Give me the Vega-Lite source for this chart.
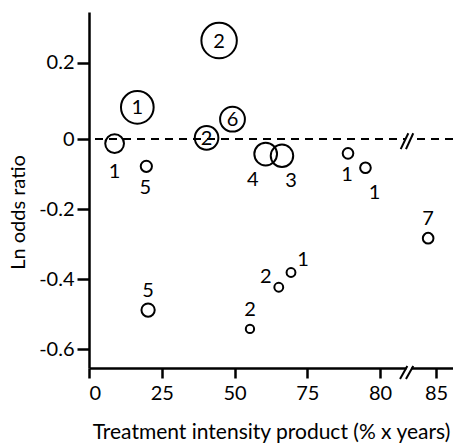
{
  "$schema": "https://vega.github.io/schema/vega-lite/v6.json",
  "autosize": {"type": "none"},
  "padding": {"left": 89, "top": 12, "right": 0, "bottom": 76},
  "width": 364,
  "height": 356,
  "config": {
    "font": "Lato",
    "view": {"stroke": null},
    "axis": {
      "grid": false,
      "domainColor": "black",
      "domainWidth": 2.5,
      "tickColor": "black",
      "tickWidth": 2.5,
      "tickSize": 10,
      "labelFontSize": 20,
      "labelColor": "black",
      "titleColor": "black",
      "titleFontWeight": "normal",
      "labelFont": "Lato",
      "titleFont": "Lato"
    }
  },
  "datasets": {
    "studies": [
      {"id": "a", "ipt": 16.6, "lnor": 0.083, "weight": 340, "label": "1"},
      {"id": "b", "ipt": 44.7, "lnor": 0.258, "weight": 400, "label": "2"},
      {"id": "c", "ipt": 49.3, "lnor": 0.052, "weight": 196, "label": "6"},
      {"id": "d", "ipt": 40.4, "lnor": 0.003, "weight": 177, "label": "2"},
      {"id": "e", "ipt": 8.8, "lnor": -0.013, "weight": 112, "label": "1"},
      {"id": "f", "ipt": 19.7, "lnor": -0.078, "weight": 40, "label": "5"},
      {"id": "g", "ipt": 60.7, "lnor": -0.043, "weight": 164, "label": "4"},
      {"id": "h", "ipt": 66.3, "lnor": -0.048, "weight": 161, "label": "3"},
      {"id": "i", "ipt": 77.8, "lnor": -0.041, "weight": 36, "label": "1"},
      {"id": "j", "ipt": 79.0, "lnor": -0.082, "weight": 36, "label": "1"},
      {"id": "k", "ipt": 84.3, "lnor": -0.283, "weight": 36, "label": "7"},
      {"id": "l", "ipt": 69.4, "lnor": -0.381, "weight": 25, "label": "1"},
      {"id": "m", "ipt": 65.2, "lnor": -0.423, "weight": 25, "label": "2"},
      {"id": "n", "ipt": 55.3, "lnor": -0.542, "weight": 22, "label": "2"},
      {"id": "o", "ipt": 20.3, "lnor": -0.488, "weight": 56, "label": "5"}
    ],
    "breakGaps": [
      {"x1": 82.36, "x2": 82.8, "y1": -0.645, "y2": -0.665},
      {"x1": 82.3, "x2": 82.75, "y1": -0.012, "y2": 0.012}
    ],
    "breakSlashes": [
      {"x1": 81.79, "y1": -0.685, "x2": 82.44, "y2": -0.648},
      {"x1": 82.32, "y1": -0.685, "x2": 82.97, "y2": -0.648},
      {"x1": 81.85, "y1": -0.029, "x2": 82.53, "y2": 0.015},
      {"x1": 82.32, "y1": -0.029, "x2": 82.97, "y2": 0.015}
    ],
    "reference": [{"v": 0}]
  },
  "layer": [
    {
      "data": {"name": "reference"},
      "mark": {"type": "rule", "strokeDash": [8, 6], "strokeWidth": 1.8, "color": "black"},
      "encoding": {
        "y": {"field": "v", "type": "quantitative",
          "scale": {"type": "linear", "domain": [-0.6534, 0, 0.2, 0.333], "range": [356, 127, 50.7, 0], "nice": false, "zero": false},
          "axis": {
            "values": [-0.6, -0.4, -0.2, 0, 0.2],
            "labelExpr": "datum.value == 0 ? '0' : (datum.value < 0 ? '-' : '') + format(abs(datum.value), '.1f')",
            "labelPadding": 3,
            "tickSize": 12,
            "title": "Ln odds ratio",
            "titleFontSize": 20,
            "titleX": -65,
            "titleY": 200,
            "titleBaseline": "alphabetic",
            "titleAngle": -90
          }
        }
      }
    },
    {
      "data": {"name": "studies"},
      "mark": {"type": "point", "shape": "circle", "filled": false, "stroke": "black", "strokeWidth": 2, "opacity": 1},
      "encoding": {
        "x": {"field": "ipt", "type": "quantitative",
          "scale": {"type": "linear", "domain": [0, 75, 80, 86.52], "range": [0, 218.3, 291, 364], "nice": false, "zero": false},
          "axis": {
            "values": [0, 25, 50, 75, 80, 85],
            "labelPadding": 5,
            "title": "Treatment intensity product (% x years)",
            "titleFontSize": 21,
            "titleBaseline": "alphabetic",
            "titleY": 70
          }
        },
        "y": {"field": "lnor", "type": "quantitative"},
        "size": {"field": "weight", "type": "quantitative", "scale": {"type": "linear", "domain": [0, 400], "range": [0, 1257], "zero": true}, "legend": null}
      }
    },
    {
      "data": {"name": "breakGaps"},
      "mark": {"type": "rect", "color": "white"},
      "encoding": {
        "x": {"field": "x1", "type": "quantitative"},
        "x2": {"field": "x2"},
        "y": {"field": "y1", "type": "quantitative"},
        "y2": {"field": "y2"}
      }
    },
    {
      "data": {"name": "breakSlashes"},
      "mark": {"type": "rule", "color": "black", "strokeWidth": 2},
      "encoding": {
        "x": {"field": "x1", "type": "quantitative"},
        "x2": {"field": "x2"},
        "y": {"field": "y1", "type": "quantitative"},
        "y2": {"field": "y2"}
      }
    },
    {
      "data": {"name": "studies"},
      "transform": [{"filter": {"field": "id", "oneOf": ["a", "b", "c", "d"]}}],
      "mark": {"type": "text", "fontSize": 20, "color": "black", "baseline": "middle", "align": "center", "dy": 1},
      "encoding": {"x": {"field": "ipt", "type": "quantitative"}, "y": {"field": "lnor", "type": "quantitative"}, "text": {"field": "label"}}
    },
    {
      "data": {"name": "studies"},
      "transform": [{"filter": {"field": "id", "oneOf": ["f", "i"]}}],
      "mark": {"type": "text", "fontSize": 20, "color": "black", "baseline": "middle", "align": "center", "dy": 22, "dx": -1},
      "encoding": {"x": {"field": "ipt", "type": "quantitative"}, "y": {"field": "lnor", "type": "quantitative"}, "text": {"field": "label"}}
    },
    {
      "data": {"name": "studies"},
      "transform": [{"filter": {"field": "id", "oneOf": ["e"]}}],
      "mark": {"type": "text", "fontSize": 20, "color": "black", "baseline": "middle", "align": "center", "dy": 28},
      "encoding": {"x": {"field": "ipt", "type": "quantitative"}, "y": {"field": "lnor", "type": "quantitative"}, "text": {"field": "label"}}
    },
    {
      "data": {"name": "studies"},
      "transform": [{"filter": {"field": "id", "oneOf": ["g"]}}],
      "mark": {"type": "text", "fontSize": 20, "color": "black", "baseline": "middle", "align": "center", "dy": 26, "dx": -13},
      "encoding": {"x": {"field": "ipt", "type": "quantitative"}, "y": {"field": "lnor", "type": "quantitative"}, "text": {"field": "label"}}
    },
    {
      "data": {"name": "studies"},
      "transform": [{"filter": {"field": "id", "oneOf": ["h", "j"]}}],
      "mark": {"type": "text", "fontSize": 20, "color": "black", "baseline": "middle", "align": "center", "dy": 25, "dx": 9},
      "encoding": {"x": {"field": "ipt", "type": "quantitative"}, "y": {"field": "lnor", "type": "quantitative"}, "text": {"field": "label"}}
    },
    {
      "data": {"name": "studies"},
      "transform": [{"filter": {"field": "id", "oneOf": ["k", "n", "o"]}}],
      "mark": {"type": "text", "fontSize": 20, "color": "black", "baseline": "middle", "align": "center", "dy": -19},
      "encoding": {"x": {"field": "ipt", "type": "quantitative"}, "y": {"field": "lnor", "type": "quantitative"}, "text": {"field": "label"}}
    },
    {
      "data": {"name": "studies"},
      "transform": [{"filter": {"field": "id", "oneOf": ["l"]}}],
      "mark": {"type": "text", "fontSize": 20, "color": "black", "baseline": "middle", "align": "center", "dy": -13, "dx": 12},
      "encoding": {"x": {"field": "ipt", "type": "quantitative"}, "y": {"field": "lnor", "type": "quantitative"}, "text": {"field": "label"}}
    },
    {
      "data": {"name": "studies"},
      "transform": [{"filter": {"field": "id", "oneOf": ["m"]}}],
      "mark": {"type": "text", "fontSize": 20, "color": "black", "baseline": "middle", "align": "center", "dy": -10, "dx": -13},
      "encoding": {"x": {"field": "ipt", "type": "quantitative"}, "y": {"field": "lnor", "type": "quantitative"}, "text": {"field": "label"}}
    }
  ]
}
